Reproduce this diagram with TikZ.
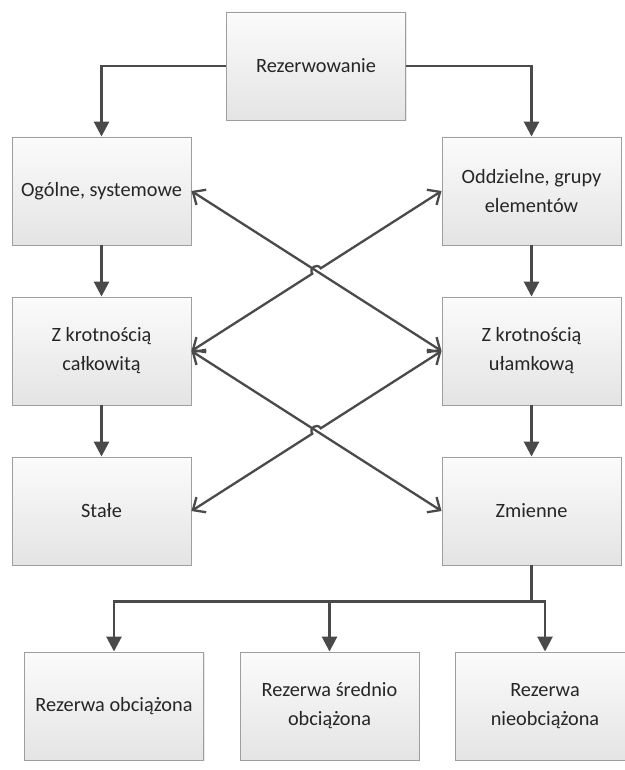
\documentclass[tikz,border=0pt]{standalone}
\usepackage{fontspec}
\setmainfont{Carlito}
\usetikzlibrary{arrows.meta, calc, shadows}
\definecolor{cline}{HTML}{4A4A4A}
\definecolor{cedge}{HTML}{9E9E9E}
\definecolor{ctop}{HTML}{FBFBFB}
\definecolor{cbot}{HTML}{E4E4E4}
\definecolor{ctext}{HTML}{262626}
\tikzset{
  every picture/.style={x=1pt, y=-1pt},
  box/.style={draw=cedge, line width=0.9pt, top color=ctop, bottom color=cbot, text=ctext, align=center,
    minimum width=179pt, minimum height=108pt, font=\fontsize{20.3}{29}\selectfont,
    drop shadow={shadow xshift=1.2pt, shadow yshift=-1.2pt, opacity=0.18}},
  wire/.style={draw=cline, line width=2.8pt},
  arrow/.style={wire, -{Triangle[length=15pt, width=15pt]}},
  link/.style={draw=cline, line width=2.3pt, {Straight Barb[length=10pt, width=18pt]}-{Straight Barb[length=10pt, width=18pt]}},
}
\begin{document}
\begin{tikzpicture}
  \useasboundingbox (0,0) rectangle (624,770);
  \node[box] (rez) at (316,66) {Rezerwowanie};
  \node[box] (og) at (101.5,191) {Ogólne, systemowe};
  \node[box] (od) at (531.5,191) {Oddzielne, grupy\\elementów};
  \node[box] (ck) at (101.5,351) {Z krotnością\\całkowitą};
  \node[box] (ul) at (531.5,351) {Z krotnością\\ułamkową};
  \node[box] (st) at (101.5,511) {Stałe};
  \node[box] (zm) at (531.5,511) {Zmienne};
  \node[box] (r1) at (114,706) {Rezerwa obciążona};
  \node[box] (r2) at (329.5,706) {Rezerwa średnio\\obciążona};
  \node[box] (r3) at (545,706) {Rezerwa\\nieobciążona};
  % hierarchy
  \draw[arrow] (rez.west) -| (og.north);
  \draw[arrow] (rez.east) -| (od.north);
  \foreach \a/\b in {og/ck, ck/st, od/ul, ul/zm} {\draw[arrow] (\a) -- (\b);}
  \coordinate (bus) at ($(zm.south)+(0,36)$);
  \draw[wire] (zm.south) -- (bus);
  \foreach \r in {r1,r2,r3} {\draw[arrow] (bus) -| (\r.north);}
  % cross links, the rising ones hop over
  \draw[link] (og.east) -- (ul.west);
  \draw[link] (ck.east) -- (zm.west);
  \foreach \s/\e in {ck/od, st/ul} {
    \coordinate (x) at ($(\s.east)!0.5!(\e.west)$);
    \coordinate (ha) at ($(x)!5pt!(\s.east)$);
    \coordinate (hb) at ($(x)!5pt!(\e.west)$);
    \draw[link] (\s.east) -- (ha) .. controls ($(ha)!0.67!90:(hb)$) and ($(hb)!0.67!-90:(ha)$) .. (hb) -- (\e.west);
  }
\end{tikzpicture}
\end{document}
